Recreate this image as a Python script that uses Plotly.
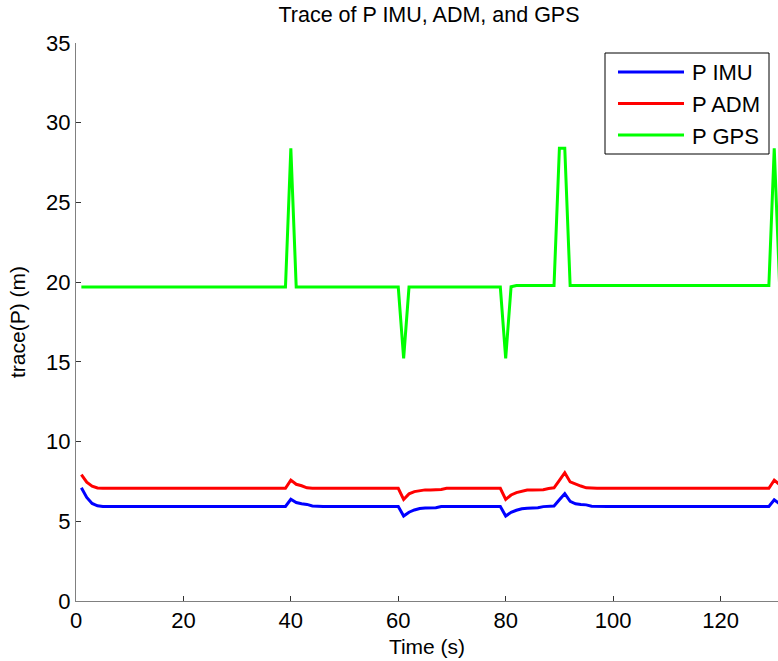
import plotly.graph_objects as go

# Sample times (s)
time_s = list(range(1, 132))

# trace(P) of the IMU covariance (m)
p_imu = [
    7.10, 6.50, 6.12, 5.97, 5.93, 5.93, 5.93, 5.93, 5.93, 5.93,
    5.93, 5.93, 5.93, 5.93, 5.93, 5.93, 5.93, 5.93, 5.93, 5.93,
    5.93, 5.93, 5.93, 5.93, 5.93, 5.93, 5.93, 5.93, 5.93, 5.93,
    5.93, 5.93, 5.93, 5.93, 5.93, 5.93, 5.93, 5.93, 5.93, 6.38,
    6.18, 6.10, 6.06, 5.96, 5.93, 5.93, 5.93, 5.93, 5.93, 5.93,
    5.93, 5.93, 5.93, 5.93, 5.93, 5.93, 5.93, 5.93, 5.93, 5.93,
    5.33, 5.57, 5.71, 5.80, 5.83, 5.84, 5.85, 5.93, 5.93, 5.93,
    5.93, 5.93, 5.93, 5.93, 5.93, 5.93, 5.93, 5.93, 5.93, 5.33,
    5.56, 5.69, 5.78, 5.82, 5.83, 5.85, 5.92, 5.94, 5.96, 6.35,
    6.73, 6.25, 6.10, 6.06, 6.03, 5.95, 5.93, 5.93, 5.93, 5.93,
    5.93, 5.93, 5.93, 5.93, 5.93, 5.93, 5.93, 5.93, 5.93, 5.93,
    5.93, 5.93, 5.93, 5.93, 5.93, 5.93, 5.93, 5.93, 5.93, 5.93,
    5.93, 5.93, 5.93, 5.93, 5.93, 5.93, 5.93, 5.93, 5.93, 6.35,
    6.10,
]

# trace(P) of the ADM covariance (m)
p_adm = [
    7.92, 7.45, 7.20, 7.09, 7.07, 7.07, 7.07, 7.07, 7.07, 7.07,
    7.07, 7.07, 7.07, 7.07, 7.07, 7.07, 7.07, 7.07, 7.07, 7.07,
    7.07, 7.07, 7.07, 7.07, 7.07, 7.07, 7.07, 7.07, 7.07, 7.07,
    7.07, 7.07, 7.07, 7.07, 7.07, 7.07, 7.07, 7.07, 7.07, 7.58,
    7.32, 7.23, 7.10, 7.07, 7.07, 7.07, 7.07, 7.07, 7.07, 7.07,
    7.07, 7.07, 7.07, 7.07, 7.07, 7.07, 7.07, 7.07, 7.07, 7.07,
    6.37, 6.72, 6.86, 6.93, 6.97, 6.97, 6.97, 7.00, 7.07, 7.07,
    7.07, 7.07, 7.07, 7.07, 7.07, 7.07, 7.07, 7.07, 7.07, 6.37,
    6.65, 6.80, 6.90, 6.96, 6.97, 6.97, 6.98, 7.06, 7.10, 7.57,
    8.05, 7.47, 7.32, 7.21, 7.10, 7.07, 7.07, 7.07, 7.07, 7.07,
    7.07, 7.07, 7.07, 7.07, 7.07, 7.07, 7.07, 7.07, 7.07, 7.07,
    7.07, 7.07, 7.07, 7.07, 7.07, 7.07, 7.07, 7.07, 7.07, 7.07,
    7.07, 7.07, 7.07, 7.07, 7.07, 7.07, 7.07, 7.07, 7.07, 7.58,
    7.30,
]

# trace(P) of the GPS covariance (m)
p_gps = [
    19.69, 19.69, 19.69, 19.69, 19.69, 19.69, 19.69, 19.69, 19.69, 19.69,
    19.69, 19.69, 19.69, 19.69, 19.69, 19.69, 19.69, 19.69, 19.69, 19.69,
    19.69, 19.69, 19.69, 19.69, 19.69, 19.69, 19.69, 19.69, 19.69, 19.69,
    19.69, 19.69, 19.69, 19.69, 19.69, 19.69, 19.69, 19.69, 19.69, 28.40,
    19.69, 19.69, 19.69, 19.69, 19.69, 19.69, 19.69, 19.69, 19.69, 19.69,
    19.69, 19.69, 19.69, 19.69, 19.69, 19.69, 19.69, 19.69, 19.69, 19.69,
    15.22, 19.69, 19.69, 19.69, 19.69, 19.69, 19.69, 19.69, 19.69, 19.69,
    19.69, 19.69, 19.69, 19.69, 19.69, 19.69, 19.69, 19.69, 19.69, 15.22,
    19.71, 19.79, 19.79, 19.79, 19.79, 19.79, 19.79, 19.79, 19.79, 28.40,
    28.40, 19.79, 19.79, 19.79, 19.79, 19.79, 19.79, 19.79, 19.79, 19.79,
    19.79, 19.79, 19.79, 19.79, 19.79, 19.79, 19.79, 19.79, 19.79, 19.79,
    19.79, 19.79, 19.79, 19.79, 19.79, 19.79, 19.79, 19.79, 19.79, 19.79,
    19.79, 19.79, 19.79, 19.79, 19.79, 19.79, 19.79, 19.79, 19.79, 28.40,
    19.79,
]

series_names = ["P IMU", "P ADM", "P GPS"]
series_colors = ["#0000ff", "#ff0000", "#00ff00"]
series_values = [p_imu, p_adm, p_gps]

x_ticks = [0, 20, 40, 60, 80, 100, 120]
y_ticks = [0, 5, 10, 15, 20, 25, 30, 35]

FONT = "Liberation Sans, Arial, Helvetica, sans-serif"
W, H = 778, 661
ML, MR, MT, MB = 76, 0, 43, 60
PW, PH = W - ML - MR, H - MT - MB

fig = go.Figure()
for name, color, vals in zip(series_names, series_colors, series_values):
    fig.add_trace(go.Scatter(
        x=time_s, y=vals, mode="lines", name=name,
        line=dict(color=color, width=3),
        showlegend=False,
    ))


def px_x(px):
    return (px - ML) / PW


def px_y(py):
    return (H - MB - py) / PH


# Boxed legend in the upper right of the axes
shapes = [dict(
    type="rect", xref="paper", yref="paper",
    x0=px_x(605), x1=px_x(769), y0=px_y(154), y1=px_y(53),
    line=dict(color="black", width=1), fillcolor="white", layer="above",
)]
annotations = []
for i, (name, color) in enumerate(zip(series_names, series_colors)):
    row_y = 72 + i * 31.5
    shapes.append(dict(
        type="line", xref="paper", yref="paper",
        x0=px_x(618), x1=px_x(684), y0=px_y(row_y), y1=px_y(row_y),
        line=dict(color=color, width=3), layer="above",
    ))
    annotations.append(dict(
        xref="paper", yref="paper", x=px_x(690), y=px_y(row_y + 1),
        text=name, showarrow=False, xanchor="left", yanchor="middle",
        font=dict(family=FONT, size=22, color="black"),
    ))

axis_common = dict(
    showgrid=False, zeroline=False, showline=True,
    linecolor="#808080", linewidth=1, mirror=False,
    ticks="inside", ticklen=5, tickwidth=1, tickcolor="#333333",
    tickfont=dict(family=FONT, size=22, color="black"),
)

fig.update_layout(
    width=W, height=H,
    margin=dict(l=ML, r=MR, t=MT, b=MB),
    paper_bgcolor="white", plot_bgcolor="white",
    title=dict(
        text="Trace of P IMU, ADM, and GPS",
        x=429 / W, xref="container", xanchor="center",
        y=1 - 14 / H, yref="container", yanchor="middle",
        font=dict(family=FONT, size=21.5, color="black"),
    ),
    xaxis=dict(
        range=[0, 130.7], tickvals=x_ticks,
        title=dict(text="Time (s)", standoff=6,
                   font=dict(family=FONT, size=21, color="black")),
        **axis_common,
    ),
    yaxis=dict(
        range=[0, 35], tickvals=y_ticks,
        title=dict(text="trace(P) (m)", standoff=14,
                   font=dict(family=FONT, size=21, color="black")),
        **axis_common,
    ),
    shapes=shapes,
    annotations=annotations,
)

fig.write_html("out.html")
